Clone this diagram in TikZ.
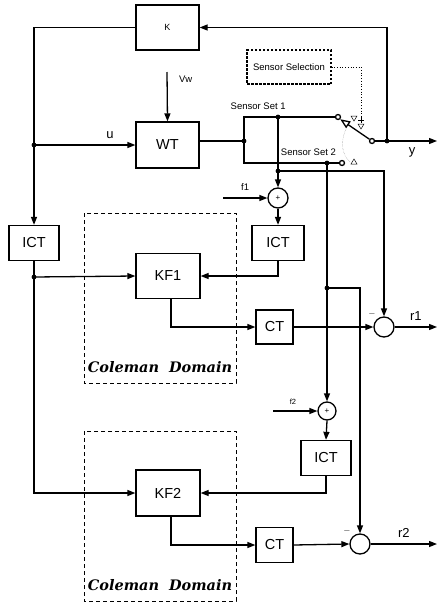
\documentclass[tikz,border=0pt]{standalone}
\usepackage{fontspec}
\setsansfont{Liberation Sans}
\newfontfamily\domfont{DejaVu Serif}
\usetikzlibrary{arrows.meta}

\tikzset{
  every node/.style={font=\sffamily},
  sig/.style={line width=1.3pt},
  arr/.style={sig,-{Triangle[length=8pt,width=6pt]}},
  blk/.style={draw,line width=1.3pt,font=\sffamily\fontsize{14.5}{16}\selectfont},
  sumc/.style={draw,circle,line width=1.3pt,minimum size=20pt,inner sep=0pt},
  contact/.style={circle,draw,line width=1.3pt,inner sep=0pt,minimum size=5pt,fill=white},
  lbl/.style={font=\sffamily\fontsize{13}{15}\selectfont},
  small/.style={font=\sffamily\fontsize{9.5}{11}\selectfont},
  cbox/.style={draw,dash pattern=on 4pt off 3pt,line width=0.7pt},
  domtext/.style={font=\domfont\bfseries\itshape\fontsize{14.5}{16}\selectfont},
  tri/.style={line width=0.5pt}
}

\begin{document}
\begin{tikzpicture}[x=1pt,y=-1pt]
  \useasboundingbox (0,0) rectangle (438,603);

  % blocks
  \node[blk,minimum width=63pt,minimum height=45pt,font=\sffamily\fontsize{9}{11}\selectfont] (K) at (167.5,27.5) {K};
  \node[blk,minimum width=63pt,minimum height=46pt] (WT) at (167.5,145) {WT};
  \node[blk,minimum width=50pt,minimum height=35pt] (ICT0) at (34,243) {ICT};
  \node[blk,minimum width=52pt,minimum height=35pt] (ICT1) at (278,243) {ICT};
  \node[blk,minimum width=64pt,minimum height=45pt] (KF1) at (168,276) {KF1};
  \node[blk,minimum width=37pt,minimum height=34pt] (CT1) at (274.5,327) {CT};
  \node[blk,minimum width=50pt,minimum height=35pt] (ICT2) at (326,458) {ICT};
  \node[blk,minimum width=64pt,minimum height=46pt] (KF2) at (168,493) {KF2};
  \node[blk,minimum width=37pt,minimum height=35pt] (CT2) at (274.5,545) {CT};

  % summing points
  \node[sumc] (sum1) at (278,198) {\fontsize{8}{8}\selectfont +};
  \node[sumc,minimum size=18pt] (sum2) at (327,411) {\fontsize{8}{8}\selectfont +};
  \node[sumc] (e1) at (384,327) {};
  \node[sumc] (e2) at (360,544) {};
  \node[small] at (372,314) {$-$};
  \node[small] at (347,531) {$-$};

  % sensor selection and switch
  \node[draw,dash pattern=on 2.5pt off 1.5pt,line width=1.2pt,minimum width=84pt,minimum height=34pt,font=\sffamily\fontsize{9.5}{11}\selectfont] (sel) at (289,67) {Sensor Selection};
  \node[contact] (c1) at (338,117) {};
  \node[contact] (c2) at (342,163) {};
  \node[contact] (pv) at (372,141) {};

  % junctions
  \coordinate (ju) at (34,145);
  \coordinate (jk) at (34,277);
  \coordinate (jw) at (244,141);
  \coordinate (js1) at (278,117);
  \coordinate (js2) at (327,163);
  \coordinate (j1) at (278,171);
  \coordinate (j2) at (327,288);
  \coordinate (jy) at (387,141);
  \coordinate (vwin) at (167,72);
  \coordinate (f1in) at (223,198);
  \coordinate (f2in) at (273,411);
  \coordinate (yout) at (437,141);
  \coordinate (r1out) at (437,327);
  \coordinate (r2out) at (437,544);

  % connections
  \draw[arr] (K.west) -| (ICT0.north);
  \draw[arr] (ju) -- (WT.west) node[lbl,pos=0.75,above=2pt] {u};
  \draw[arr] (vwin) -- (WT.north) node[small,pos=0.15,right=8pt] {Vw};
  \draw[sig] (WT.east |- jw) -- (jw);
  \draw[sig] (jw) |- (c1.west) node[small,pos=0.6,above=3pt,xshift=-4pt] {Sensor Set 1};
  \draw[sig] (jw) |- (c2.west) node[small,pos=0.85,above=3pt,xshift=-2pt] {Sensor Set 2};
  \draw[sig,-{Triangle[open,length=10pt,width=8pt]}] (pv) -- (c1.south east);
  \draw[sig] (pv) -- (jy);
  \draw[arr] (jy) -- (yout) node[lbl,pos=0.5,below=3pt] {y};
  \draw[arr] (jy) |- (K.east);

  \draw[arr] (js1) -- (sum1.north);
  \draw[arr] (j1) -| (e1.north);
  \draw[arr] (f1in) -- (sum1.west) node[small,pos=0.5,above=4pt] {f1};
  \draw[arr] (sum1.south) -- (ICT1.north);
  \draw[arr] (ICT1.south) |- (KF1.east);
  \draw[sig] (ICT0.south) -- (jk);
  \draw[arr] (jk) -- (KF1.west);
  \draw[arr] ([xshift=3pt]KF1.south) |- (CT1.west);
  \draw[arr] (CT1.east) -- (e1.west);
  \draw[arr] (e1.east) -- (r1out) node[lbl,pos=0.5,above=3pt] {r1};

  \draw[arr] (js2) -- (sum2.north);
  \draw[arr] (j2) -| (e2.north);
  \draw[arr] (f2in) -- (sum2.west) node[font=\sffamily\fontsize{7.5}{9}\selectfont,pos=0.45,above=3pt] {f2};
  \draw[arr] (sum2.south) -- (ICT2.north);
  \draw[arr] (ICT2.south) |- (KF2.east);
  \draw[arr] (jk) |- (KF2.west);
  \draw[arr] ([xshift=3pt]KF2.south) |- (CT2.west);
  \draw[arr] (CT2.east) -- (e2.west);
  \draw[arr] (e2.east) -- (r2out) node[lbl,pos=0.5,above=3pt] {r2};

  % dots
  \foreach \p in {ju,jk,jw,js1,js2,j1,j2,jy}
    \fill (\p) circle (2.4pt);

  % selection link and switch marks
  \draw[dotted,line width=0.7pt] (sel.east) -| (361,124);
  \draw[tri] (358,124) -- (364,124) -- (361,129) -- cycle;
  \draw[tri] (358,120) -- (364,120) (361,117) -- (361,123);
  \draw[tri] (351,116) -- (357,116) -- (354,121) -- cycle;
  \draw[tri] (351,164) -- (357,164) -- (354,159) -- cycle;
  \draw[densely dotted,line width=0.4pt,gray] (346,129) .. controls (340,142) and (342,155) .. (350,162);

  % Coleman domains
  \draw[cbox] (84,213) rectangle (236,383);
  \draw[cbox] (84,431) rectangle (236,601);
  \node[domtext] (dom1) at (160,367) {Coleman\ \ Domain};
  \node[domtext] (dom2) at (160,585) {Coleman\ \ Domain};
\end{tikzpicture}
\end{document}
